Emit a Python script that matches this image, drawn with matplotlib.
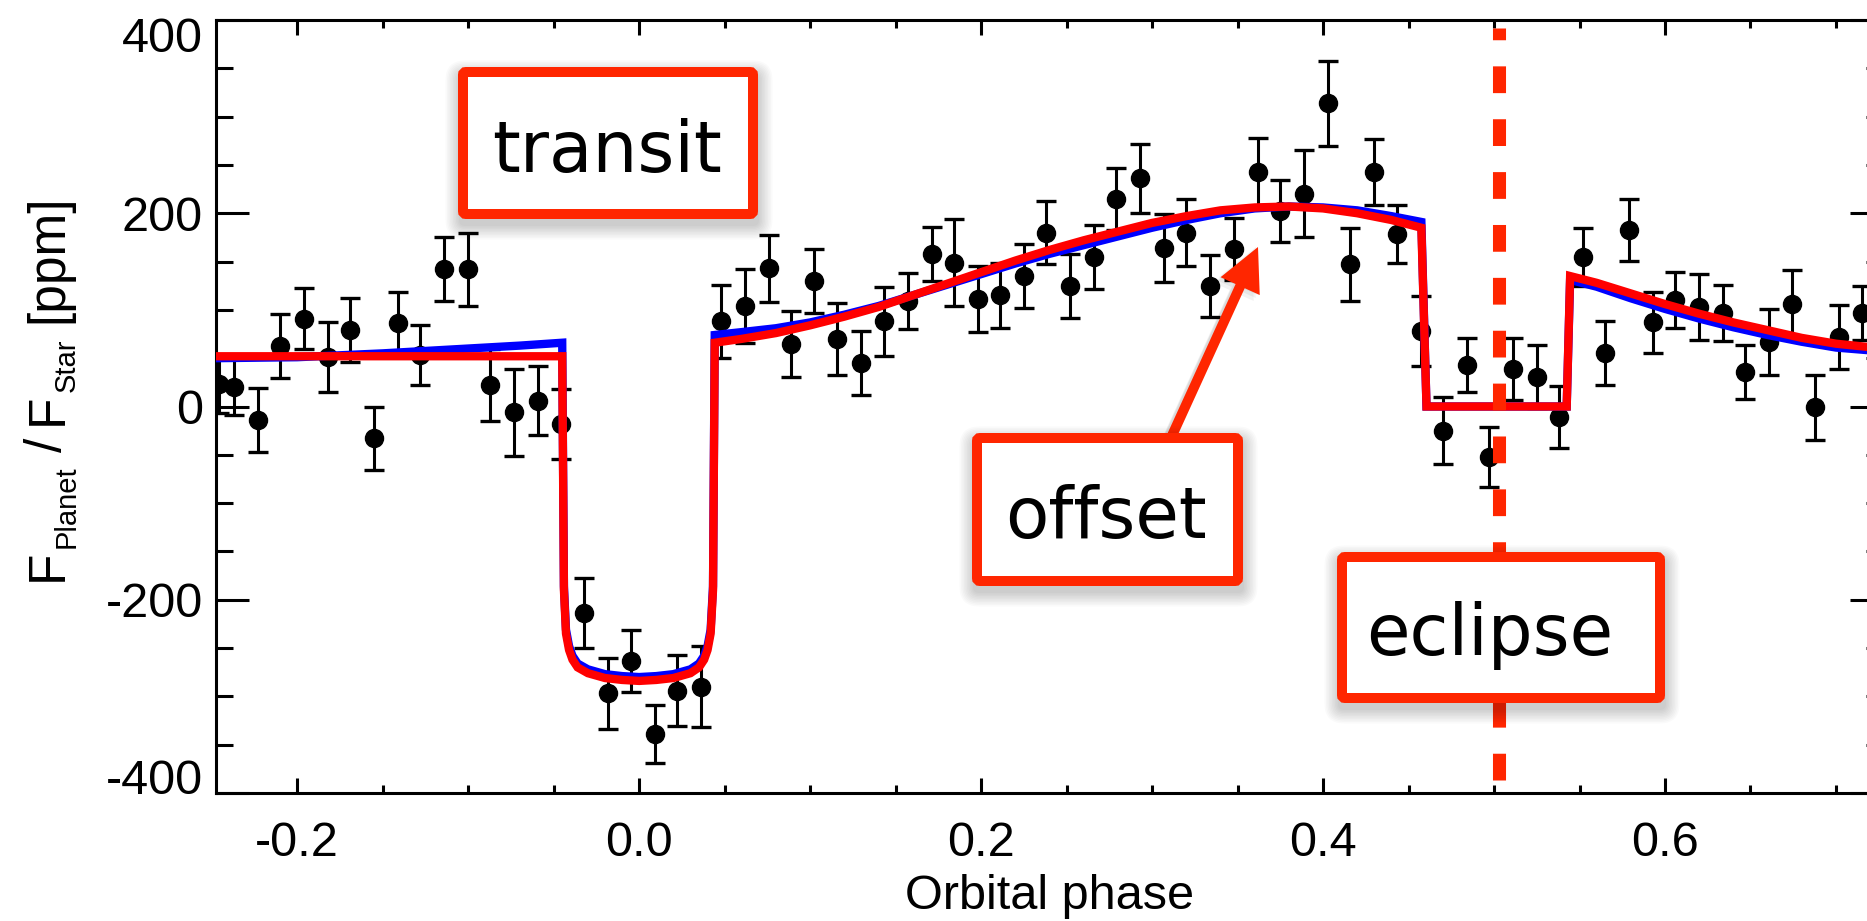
import matplotlib
matplotlib.use('Agg')
import matplotlib.pyplot as plt
from matplotlib.patches import FancyBboxPatch, FancyArrow
from matplotlib.ticker import MultipleLocator, FormatStrFormatter
from matplotlib.transforms import Affine2D, IdentityTransform, ScaledTranslation

plt.rcParams['font.family'] = ['Liberation Sans', 'DejaVu Sans']
plt.rcParams['axes.unicode_minus'] = False

# binned phase curve, ppm
phase = [-0.246, -0.237, -0.223, -0.210, -0.196, -0.182, -0.169, -0.155, -0.141, -0.128,
         -0.114, -0.100, -0.087, -0.073, -0.059, -0.046, -0.032, -0.018, -0.005, 0.009,
         0.022, 0.036, 0.048, 0.062, 0.076, 0.089, 0.102, 0.116, 0.130, 0.143,
         0.157, 0.171, 0.184, 0.198, 0.211, 0.225, 0.238, 0.252, 0.266, 0.279,
         0.293, 0.307, 0.320, 0.334, 0.348, 0.362, 0.375, 0.389, 0.403, 0.416,
         0.430, 0.443, 0.457, 0.470, 0.484, 0.497, 0.511, 0.525, 0.538, 0.552,
         0.565, 0.579, 0.593, 0.606, 0.620, 0.634, 0.647, 0.661, 0.674, 0.688,
         0.702, 0.715]
flux = [23, 20, -14, 63, 91, 51, 79, -33, 86, 53,
        142, 142, 22, -6, 6, -18, -214, -297, -263, -339,
        -294, -290, 88, 104, 143, 65, 130, 70, 45, 88,
        109, 158, 149, 111, 115, 135, 180, 125, 155, 215,
        236, 164, 180, 125, 163, 243, 202, 220, 314, 147,
        243, 179, 78, -25, 43, -52, 39, 31, -11, 155,
        55, 183, 87, 110, 103, 97, 36, 67, 106, -1,
        72, 97]
flux_err = [30, 29, 33, 33, 32, 36, 33, 33, 32, 31,
            33, 38, 37, 45, 36, 36, 36, 37, 32, 30,
            37, 42, 38, 38, 35, 34, 33, 37, 33, 36,
            29, 28, 45, 34, 34, 33, 33, 33, 33, 32,
            36, 35, 35, 32, 32, 35, 32, 45, 44, 38,
            34, 30, 36, 35, 28, 31, 32, 33, 32, 30,
            33, 32, 32, 29, 34, 29, 28, 34, 35, 34,
            33, 28]

# best-fit models
red_phase = [-0.2475, -0.045, -0.044, -0.0428, -0.041, -0.039, -0.036, -0.030, -0.020, -0.010,
             0.000, 0.010, 0.020, 0.030, 0.035, 0.038, 0.040, 0.0418, 0.0432, 0.0442,
             0.06, 0.08, 0.10, 0.12, 0.14, 0.16, 0.18, 0.20, 0.22, 0.24,
             0.26, 0.28, 0.30, 0.32, 0.34, 0.36, 0.38, 0.40, 0.42, 0.44,
             0.4575, 0.4605, 0.5425, 0.5445, 0.56, 0.58, 0.60, 0.62, 0.64, 0.66,
             0.68, 0.70, 0.7275]
red_flux = [52, 52, -190, -235, -252, -262, -270, -276, -281, -283,
            -284, -283, -281, -276, -270, -262, -252, -235, -190, 66,
            70, 76, 84, 93, 103, 115, 127, 139, 151, 162,
            172, 181, 190, 197, 203, 206, 207, 205, 200, 193,
            185, 0, 0, 135, 128, 117, 106, 96, 87, 79,
            71, 65, 60]
blue_phase = [-0.2475, -0.20, -0.15, -0.10, -0.07, -0.045, -0.044, -0.0428, -0.041, -0.039,
              -0.036, -0.030, -0.020, -0.010, 0.000, 0.010, 0.020, 0.030, 0.035, 0.038,
              0.040, 0.0418, 0.0432, 0.0442, 0.06, 0.08, 0.10, 0.12, 0.14, 0.16,
              0.18, 0.20, 0.22, 0.24, 0.26, 0.28, 0.30, 0.32, 0.34, 0.36,
              0.38, 0.40, 0.42, 0.44, 0.4575, 0.4605, 0.5425, 0.5445, 0.56, 0.58,
              0.60, 0.62, 0.64, 0.66, 0.68, 0.70, 0.7275]
blue_flux = [50, 51, 55, 60, 63, 66, -186, -231, -248, -258,
             -266, -272, -277, -279, -280, -279, -277, -272, -266, -258,
             -248, -231, -186, 74, 77, 81, 87, 95, 104, 115,
             126, 137, 148, 158, 167, 176, 185, 193, 200, 205,
             207, 206, 203, 197, 191, 0, 0, 131, 124, 112,
             101, 91, 82, 74, 67, 61, 57]

eclipse_phase = 0.503
x_ticks = [-0.2, 0.0, 0.2, 0.4, 0.6]
y_ticks = [-400, -200, 0, 200, 400]

callout_red = '#ff2600'

W, H = 1867, 921
fig = plt.figure(figsize=(W / 100, H / 100), dpi=100)
ax = fig.add_axes([216 / W, 1 - 793 / H, (1883 - 216) / W, (793 - 20) / H])

ax.errorbar(phase, flux, yerr=flux_err, fmt='o', color='black', ms=13,
            elinewidth=2.2, capsize=7.2, capthick=2.4, zorder=2)
ax.plot(blue_phase, blue_flux, color='#0000ff', lw=6, solid_joinstyle='miter', zorder=3)
ax.plot(red_phase, red_flux, color='#ff0000', lw=6, solid_joinstyle='miter', zorder=4)
ax.axvline(eclipse_phase, ymin=0.017, ymax=0.99, color=callout_red, lw=9.4,
           dashes=(2.05, 2.0), zorder=5)

ax.set_xlim(-0.2475, 0.7275)
ax.set_ylim(-400, 400)
ax.set_xticks(x_ticks)
ax.set_yticks(y_ticks)
ax.xaxis.set_minor_locator(MultipleLocator(0.05))
ax.yaxis.set_minor_locator(MultipleLocator(50))
ax.xaxis.set_major_formatter(FormatStrFormatter('%.1f'))
ax.yaxis.set_major_formatter(FormatStrFormatter('%d'))
for side in ax.spines.values():
    side.set_linewidth(2.2)
ax.tick_params(axis='x', which='both', direction='in', top=True, bottom=True, width=2.2)
ax.tick_params(axis='x', which='major', length=10.8, labelsize=35, pad=20)
ax.tick_params(axis='x', which='minor', length=5.8)
ax.tick_params(axis='y', which='both', direction='in', left=True, right=True, width=2.2)
ax.tick_params(axis='y', which='major', length=24, labelsize=35, pad=9.5)
ax.tick_params(axis='y', which='minor', length=12)

# keep the end labels of the y axis inside the frame
yt = ax.yaxis.get_major_ticks()
yt[0].label1.set_transform(yt[0].label1.get_transform() +
                           ScaledTranslation(0, 0.17, fig.dpi_scale_trans))
yt[-1].label1.set_transform(yt[-1].label1.get_transform() +
                            ScaledTranslation(0, -0.14, fig.dpi_scale_trans))

ax.set_xlabel('Orbital phase', fontsize=35)
ax.xaxis.set_label_coords(0.5, -0.105)

# y label built from pieces so the subscripts can be small
def vertical_label(pieces, x_base, y_mid):
    r = fig.canvas.get_renderer()
    parts = []
    for s, size, drop, gap in pieces:
        t = fig.text(0, 0, s, fontsize=size, rotation=90, rotation_mode='anchor',
                     ha='left', va='baseline', transform=IdentityTransform())
        parts.append((t, t.get_window_extent(r).height, drop, gap))
    total = sum(h + g for _, h, _, g in parts)
    y = y_mid - total / 2
    for t, h, drop, gap in parts:
        t.set_position((x_base + drop, y))
        y += h + gap


vertical_label([('F', 37, 0, 2), ('Planet', 21, 13, 13), ('/', 37, 0, 13),
                ('F', 37, 0, 2), ('Star', 21, 13, 15), ('[ppm]', 37, 0, 0)],
               62, H - 388)

# overlay in image pixels (origin top-left)
px = Affine2D().scale(1 / W, -1 / H).translate(0, 1) + fig.transFigure


def callout(x0, y0, x1, y1, text, tx, ty):
    for k in range(10):
        g = 1.5 * k
        fig.add_artist(FancyBboxPatch((x0 - g + 1, y0 - g + 7), x1 - x0 + 2 * g, y1 - y0 + 2 * g,
                                      boxstyle='round,pad=0,rounding_size=%g' % (6 + g),
                                      fc='black', ec='none', alpha=0.02, transform=px, zorder=6))
    fig.add_artist(FancyBboxPatch((x0 + 5, y0 + 5), x1 - x0 - 10, y1 - y0 - 10,
                                  boxstyle='round,pad=0,rounding_size=3', fc='white',
                                  ec=callout_red, lw=7.2, transform=px, zorder=7))
    fig.text(tx, ty, text, transform=px, ha='center', va='baseline', fontsize=51,
             family='DejaVu Sans', zorder=8)


# arrow from the "offset" box up to the peak of the phase curve
for k in range(3):
    fig.add_artist(FancyArrow(1168 - 2 * k, 440 + 3 * k, 88, -193, width=10, head_width=43,
                              head_length=43, length_includes_head=True, color='black',
                              alpha=0.05, lw=0, transform=px, zorder=5))
fig.add_artist(FancyArrow(1170, 440, 88, -193, width=10, head_width=43, head_length=43,
                          length_includes_head=True, color=callout_red, lw=0,
                          transform=px, zorder=5))

callout(458, 67, 758, 219, 'transit', 607, 172)
callout(972, 433, 1243, 586, 'offset', 1106, 538)
callout(1337, 552, 1665, 703, 'eclipse', 1490, 655)

fig.savefig('out.png', dpi=100)
